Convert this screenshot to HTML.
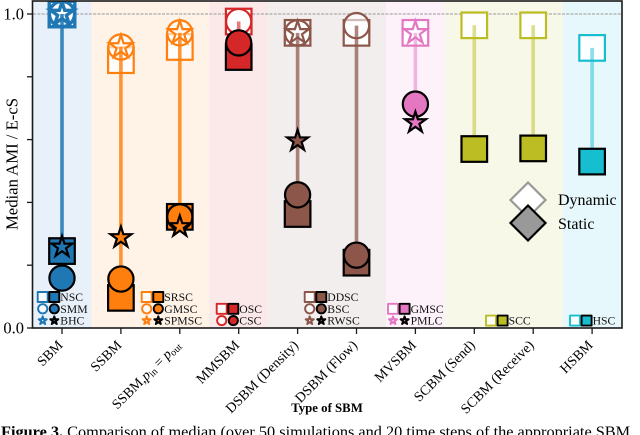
<!DOCTYPE html>
<html>
<head>
<meta charset="utf-8">
<style>
html,body{margin:0;padding:0;background:#fff;width:640px;height:435px;overflow:hidden}
svg{display:block;font-family:"Liberation Serif",serif}
</style>
</head>
<body>
<svg id="chart" width="640" height="435" viewBox="0 0 640 435" xmlns="http://www.w3.org/2000/svg">
<defs><clipPath id="plot-clip"><rect x="33" y="1" width="589" height="327"/></clipPath></defs>
<g id="bands"></g>
<line x1="33" x2="622" y1="14" y2="14" stroke="#aaa" stroke-width="1.2" stroke-dasharray="3 1.3"/>
<g id="marks" clip-path="url(#plot-clip)"></g>
<g id="legends"></g>
<g id="axes"></g>
<g>
<path d="M528 182.500L545.500 200L528 217.500L510.500 200Z" fill="#fff" stroke="#999" stroke-width="2.200"/>
<path d="M528 205.500L545.500 223L528 240.500L510.500 223Z" fill="#999" stroke="#000" stroke-width="2.200"/>
<text x="558" y="205" font-size="16">Dynamic</text>
<text x="558" y="229" font-size="16">Static</text>
</g>
<text transform="translate(17.500,164) rotate(-90)" text-anchor="middle" font-size="16.700">Median AMI / E-cS</text>
<text x="327" y="412" text-anchor="middle" font-size="12.800" font-weight="bold">Type of SBM</text>
<text x="1" y="437" font-size="16.300"><tspan font-weight="bold">Figure 3.</tspan> Comparison of median (over 50 simulations and 20 time steps of the appropriate SBM</text>
</svg>
<script>
const categories = ['SBM','SSBM','SSBM_PIN','MMSBM','DSBM (Density)','DSBM (Flow)','MVSBM','SCBM (Send)','SCBM (Receive)','HSBM'];
const dynamicSquare = [1.0,0.853,0.895,0.976,0.94,0.94,0.94,0.964,0.964,0.892];
const dynamicCircle = [1.0,0.895,0.94,0.976,0.94,0.963,null,null,null,null];
const dynamicStar = [1.0,0.895,0.94,null,0.94,null,0.94,null,null,null];
const staticSquare = [0.245,0.096,0.354,0.863,0.363,0.208,null,0.57,0.572,0.53];
const staticCircle = [0.159,0.156,0.354,0.908,0.424,0.232,0.713,null,null,null];
const staticStar = [0.258,0.288,0.323,null,0.596,null,0.654,null,null,null];
const yTickValues = [0,0.2,0.4,0.6,0.8,1];
const yTickLabels = ['0.0','','','','','1.0'];
const groupSizes = [1,2,1,2,1,2,1];
const legendSquares = ['NSC','SRSC','OSC','DDSC','GMSC','SCC','HSC'];
const legendCircles = ['SMM','GMSC','CSC','BSC',null,null,null];
const legendStars = ['BHC','SPMSC',null,'RWSC','PMLC',null,null];

const palette = ['#1f77b4','#ff7f0e','#d62728','#8c564b','#e377c2','#bcbd22','#17becf'];
const bandTints = ['#e8f1f9','#fff2e6','#fbe9ea','#f2eeed','#fdf2fa','#f7f8e8','#e6f8fb'];
const lineAlpha = [0.88,0.82,0.62,0.72,0.5,0.5,0.5];
const legendLeft = [42.7,146.7,221.7,309.7,393,491,575];
const NS = 'http://www.w3.org/2000/svg';
const X = i => 62 + 58.9 * i;
const Y = v => 328 - 314 * v;
const bandsG = document.getElementById('bands');
const marksG = document.getElementById('marks');
const legendsG = document.getElementById('legends');
const axesG = document.getElementById('axes');

function mk(parent, tag, attrs, name) {
  const el = document.createElementNS(NS, tag);
  for (const k in attrs) el.setAttribute(k, attrs[k]);
  
  
  parent.appendChild(el);
  return el;
}
function starPath(cx, cy, R) {
  let d = '';
  for (let k = 0; k < 10; k++) {
    const r = k % 2 ? R * 0.382 : R;
    const a = -Math.PI / 2 + k * Math.PI / 5;
    d += (k ? 'L' : 'M') + (cx + r * Math.cos(a)).toFixed(2) + ' ' + (cy + r * Math.sin(a)).toFixed(2);
  }
  return d + 'Z';
}
function marker(parent, kind, cx, cy, s, style, name) {
  const common = Object.assign({}, style);
  if (kind === 'square') {
    return mk(parent, 'rect', Object.assign(common, {x: cx - s, y: cy - s, width: 2 * s, height: 2 * s}), name);
  }
  if (kind === 'circle') {
    return mk(parent, 'circle', Object.assign(common, {cx: cx, cy: cy, r: s}), name);
  }
  return mk(parent, 'path', Object.assign(common, {d: starPath(cx, cy, s * 1.0)}), name);
}

let cat = 0;
groupSizes.forEach((n, g) => {
  const color = palette[g];
  const left = X(cat) - 29.45;
  mk(bandsG, 'rect', {x: left, y: 1, width: 58.9 * n, height: 327, fill: bandTints[g]}, 'band-' + g);

  for (let j = 0; j < n; j++) {
    const i = cat + j;
    const cx = X(i);
    const key = 'cat-' + i;
    const sw = g === 0 ? 3.4 : 2.2;
    const hollow = {stroke: color, 'stroke-width': sw};
    if (dynamicSquare[i] !== null) marker(marksG, 'square', cx, Y(dynamicSquare[i]), 12.8, Object.assign({fill: 'rgba(255,255,255,0.85)'}, hollow), 'dynamic-square-' + key);
    if (dynamicCircle[i] !== null) marker(marksG, 'circle', cx, Y(dynamicCircle[i]), 12.6, Object.assign({fill: 'rgba(255,255,255,0.6)'}, hollow), 'dynamic-circle-' + key);
    if (dynamicStar[i] !== null) marker(marksG, 'star', cx, Y(dynamicStar[i]), 12, Object.assign({fill: 'none'}, hollow), 'dynamic-star-' + key);

    const tops = [dynamicSquare[i], dynamicCircle[i], dynamicStar[i]].filter(v => v !== null);
    const lows = [staticSquare[i], staticCircle[i], staticStar[i]].filter(v => v !== null);
    mk(marksG, 'line', {x1: cx, x2: cx, y1: Y(Math.max(...tops)), y2: Y(Math.min(...lows)), stroke: color, 'stroke-width': 3.6, 'stroke-opacity': lineAlpha[g]}, 'range-line-' + key);

    const solid = {fill: color, stroke: '#000', 'stroke-width': 2.2, 'stroke-linejoin': 'miter'};
    if (staticSquare[i] !== null) marker(marksG, 'square', cx, Y(staticSquare[i]), 12.8, solid, 'static-square-' + key);
    if (staticCircle[i] !== null) marker(marksG, 'circle', cx, Y(staticCircle[i]), 12.6, solid, 'static-circle-' + key);
    if (staticStar[i] !== null) marker(marksG, 'star', cx, Y(staticStar[i]), 11, solid, 'static-star-' + key);
  }

  // Legend rows stack upward from the axis: the last entry sits on the bottom row.
  const entries = [['square', legendSquares[g]], ['circle', legendCircles[g]], ['star', legendStars[g]]].filter(e => e[1] !== null);
  entries.forEach((entry, r) => {
    const kind = entry[0];
    const label = entry[1];
    const ry = 320.6 - 11.8 * (entries.length - 1 - r);
    const hx = legendLeft[g];
    const size = kind === 'star' ? 4.2 : (kind === 'circle' ? 4.6 : 5);
    const width = kind === 'star' ? 2 : 1.9;
    marker(legendsG, kind, hx, ry, size, {fill: kind === 'star' ? 'none' : 'rgba(255,255,255,0.7)', stroke: color, 'stroke-width': width, 'stroke-linejoin': 'round'}, 'legend-hollow-' + label);
    marker(legendsG, kind, hx + 11.6, ry, size, {fill: color, stroke: '#000', 'stroke-width': width, 'stroke-linejoin': 'round'}, 'legend-solid-' + label);
    const t = mk(legendsG, 'text', {x: hx + 17.6, y: ry + 4, 'font-size': 11.7, fill: '#111'}, 'legend-label-' + label);
    t.textContent = label;
  });
  cat += n;
});

// Frame and ticks
mk(axesG, 'rect', {x: 32.5, y: 1, width: 589.5, height: 327, fill: 'none', stroke: '#1a1a1a', 'stroke-width': 1.6}, 'plot-frame');
yTickValues.forEach((v, k) => {
  mk(axesG, 'line', {x1: 27, x2: 33, y1: Y(v), y2: Y(v), stroke: '#1a1a1a', 'stroke-width': 1.3}, 'y-tick-' + k);
  if (yTickLabels[k]) {
    const t = mk(axesG, 'text', {x: 24, y: Y(v) + 5.5, 'text-anchor': 'end', 'font-size': 16.5}, 'y-tick-label-' + k);
    t.textContent = yTickLabels[k];
  }
});
categories.forEach((c, i) => {
  const x = X(i);
  mk(axesG, 'line', {x1: x, x2: x, y1: 328, y2: 334, stroke: '#1a1a1a', 'stroke-width': 1.3}, 'x-tick-' + i);
  const t = mk(axesG, 'text', {transform: 'translate(' + (x + 1.5) + ',346) rotate(-45)', 'text-anchor': 'end', 'font-size': 14}, 'x-tick-label-' + i);
  if (c === 'SSBM_PIN') {
    t.appendChild(document.createTextNode('SSBM,'));
    const p = document.createElementNS(NS, 'tspan');
    p.setAttribute('font-style', 'italic');
    p.textContent = 'p';
    t.appendChild(p);
    const sub = document.createElementNS(NS, 'tspan');
    sub.setAttribute('font-size', '10');
    sub.setAttribute('dy', '2');
    sub.textContent = 'in';
    t.appendChild(sub);
    const eq = document.createElementNS(NS, 'tspan');
    eq.setAttribute('dy', '-2');
    eq.textContent = ' = ';
    t.appendChild(eq);
    const p2 = document.createElementNS(NS, 'tspan');
    p2.setAttribute('font-style', 'italic');
    p2.textContent = 'p';
    t.appendChild(p2);
    const sub2 = document.createElementNS(NS, 'tspan');
    sub2.setAttribute('font-size', '10');
    sub2.setAttribute('dy', '2');
    sub2.textContent = 'out';
    t.appendChild(sub2);
  } else {
    t.textContent = c;
  }
});
</script>
</body>
</html>
